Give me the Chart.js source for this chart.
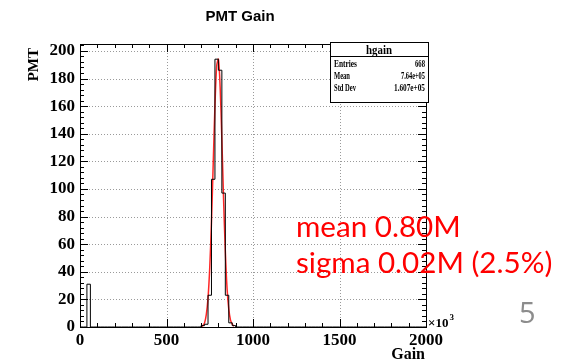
<!DOCTYPE html>
<html lang="en">
<head>
<meta charset="UTF-8">
<title>PMT Gain</title>
<script src="https://cdn.jsdelivr.net/npm/chart.js"></script>
<style>
  body { margin: 0; background: white; }
  #wrap { width: 573px; height: 364px; }
</style>
</head>
<body>
<div id="wrap"><canvas id="grafico" width="573" height="364"></canvas></div>
<script>
// histogram bins: lower edge (x10^3), width 20, only non-empty bins listed
const binLow   = [40, 700, 720, 740, 760, 780, 800, 820, 840, 860, 880];
const binCount = [31, 1, 2, 23, 107, 194, 186, 97, 23, 3, 1];
const binWidth = 20;

// red gaussian fit
const fitX = [700, 710, 720, 730, 740, 750, 760, 770, 780, 790, 800, 810, 820, 830, 840, 850, 860, 870, 880, 890];
const fitY = [0.3, 1, 3, 9, 21, 43, 76, 118, 160, 189, 194, 174, 136, 92, 55, 28, 13, 5, 2, 0.5];

const xTicks = [0, 500, 1000, 1500, 2000];
const yTicks = [0, 20, 40, 60, 80, 100, 120, 140, 160, 180, 200];

const statNames  = ["Entries", "Mean", "Std Dev"];
const statValues = ["668", "7.64e+05", "1.607e+05"];

const notes = ["mean 0.80M", "sigma 0.02M (2.5%)"];

const histPts = [];
for (let lo = 0; lo < 2000; lo += binWidth) {
  const k = binLow.indexOf(lo);
  histPts.push({ x: lo, y: k >= 0 ? binCount[k] : 0 });
}
histPts.push({ x: 2000, y: 0 });

const fitPts = fitX.map((x, i) => ({ x: x, y: fitY[i] }));

const serif = "'Liberation Serif', 'DejaVu Serif', serif";

function crisp(v) { return Math.round(v) + 0.5; }

const rootFrame = {
  id: 'rootFrame',
  beforeDatasetsDraw(chart) {
    const ctx = chart.ctx, a = chart.chartArea;
    const xs = chart.scales.x, ys = chart.scales.y;
    ctx.save();
    ctx.strokeStyle = '#9a9a9a';
    ctx.lineWidth = 1;
    ctx.setLineDash([1, 2]);
    xTicks.slice(1, -1).forEach(v => {
      const px = crisp(xs.getPixelForValue(v));
      ctx.beginPath(); ctx.moveTo(px, a.top); ctx.lineTo(px, a.bottom); ctx.stroke();
    });
    yTicks.slice(1).forEach(v => {
      const py = crisp(ys.getPixelForValue(v));
      ctx.beginPath(); ctx.moveTo(a.left, py); ctx.lineTo(a.right, py); ctx.stroke();
    });
    ctx.restore();
  },
  afterDatasetsDraw(chart) {
    const ctx = chart.ctx, a = chart.chartArea;
    const xs = chart.scales.x, ys = chart.scales.y;
    ctx.save();
    ctx.strokeStyle = '#000';
    ctx.lineWidth = 1;
    ctx.strokeRect(crisp(a.left), crisp(a.top), Math.round(a.right - a.left), Math.round(a.bottom - a.top));

    // ticks on all four sides, pointing inwards
    ctx.beginPath();
    for (let v = 0; v <= 2000; v += 100) {
      const px = crisp(xs.getPixelForValue(v));
      const len = v % 500 === 0 ? 8 : 4;
      ctx.moveTo(px, a.bottom); ctx.lineTo(px, a.bottom - len);
      ctx.moveTo(px, a.top); ctx.lineTo(px, a.top + len);
    }
    for (let v = 0; v <= 204; v += 4) {
      const py = crisp(ys.getPixelForValue(v));
      const len = v % 20 === 0 ? 8 : 4;
      ctx.moveTo(a.left, py); ctx.lineTo(a.left + len, py);
      ctx.moveTo(a.right, py); ctx.lineTo(a.right - len, py);
    }
    ctx.stroke();

    // stats box
    const bx = 330, by = 42, bw = 98, bh = 60;
    ctx.fillStyle = '#fff';
    ctx.fillRect(bx, by, bw, bh);
    ctx.strokeRect(bx + 0.5, by + 0.5, bw, bh);
    ctx.beginPath(); ctx.moveTo(bx, 56.5); ctx.lineTo(bx + bw, 56.5); ctx.stroke();
    ctx.fillStyle = '#000';
    ctx.font = "bold 12px " + serif;
    ctx.textAlign = 'center';
    ctx.fillText('hgain', bx + bw / 2, 54, 26);
    ctx.font = "bold 10px " + serif;
    const nameW = [23, 16, 22], valW = [10, 24, 31];
    statNames.forEach((n, i) => {
      const y = 67 + i * 12;
      ctx.textAlign = 'left';
      ctx.fillText(n, bx + 4, y, nameW[i]);
      ctx.textAlign = 'right';
      ctx.fillText(statValues[i], bx + bw - 3, y, valW[i]);
    });

    // title and axis titles
    ctx.textAlign = 'center';
    ctx.font = "bold 15px 'Liberation Sans', Arial, sans-serif";
    ctx.fillText('PMT Gain', 240, 21);
    ctx.font = "bold 16px " + serif;
    ctx.textAlign = 'right';
    ctx.fillText('Gain', 425, 359);
    ctx.save();
    ctx.translate(38, 48);
    ctx.rotate(-Math.PI / 2);
    ctx.font = "bold 15px " + serif;
    ctx.textAlign = 'right';
    ctx.fillText('PMT', 0, 0);
    ctx.restore();
    ctx.textAlign = 'left';
    ctx.font = "bold 13px " + serif;
    ctx.fillText('\u00d710', 428, 327);
    const w10 = ctx.measureText('\u00d710').width;
    ctx.font = "bold 9px " + serif;
    ctx.fillText('3', 428 + w10 + 1, 320);

    // red notes
    ctx.fillStyle = '#ff0000';
    ctx.font = "30px Lato, 'Open Sans', sans-serif";
    const s = 30 * 256 / ctx.measureText(notes[1]).width;
    ctx.font = s.toFixed(1) + "px Lato, 'Open Sans', sans-serif";
    ctx.fillText(notes[0], 296, 237);
    ctx.fillText(notes[1], 296, 273);

    ctx.fillStyle = '#8c8c8c';
    ctx.font = "29px 'Open Sans', sans-serif";
    ctx.fillText('5', 519, 323);
    ctx.restore();
  }
};

new Chart(document.getElementById('grafico'), {
  type: 'line',
  data: {
    datasets: [
      { label: 'hgain', data: histPts, stepped: true, borderColor: '#000', borderWidth: 1, pointRadius: 0, fill: false },
      { label: 'fit', data: fitPts, borderColor: 'rgba(255,0,0,0.85)', borderWidth: 1.5, pointRadius: 0, fill: false, tension: 0.3 }
    ]
  },
  options: {
    responsive: false,
    animation: false,
    layout: { padding: { left: 0, right: 147, top: 44, bottom: 0 } },
    plugins: { legend: { display: false }, tooltip: { enabled: false } },
    scales: {
      x: {
        type: 'linear', min: 0, max: 2000,
        afterFit: s => { s.height = 37; },
        afterBuildTicks: s => { s.ticks = xTicks.map(v => ({ value: v })); },
        grid: { display: false, drawTicks: false }, border: { display: false },
        ticks: { color: '#000', padding: 3, maxRotation: 0, callback: v => String(v), font: { family: serif, weight: 'bold', size: 17 } }
      },
      y: {
        min: 0, max: 205,
        afterFit: s => { s.width = 80; },
        afterBuildTicks: s => { s.ticks = yTicks.map(v => ({ value: v })); },
        grid: { display: false, drawTicks: false }, border: { display: false },
        ticks: { color: '#000', padding: 5, font: { family: serif, weight: 'bold', size: 17 } }
      }
    }
  },
  plugins: [rootFrame]
});
</script>
</body>
</html>
